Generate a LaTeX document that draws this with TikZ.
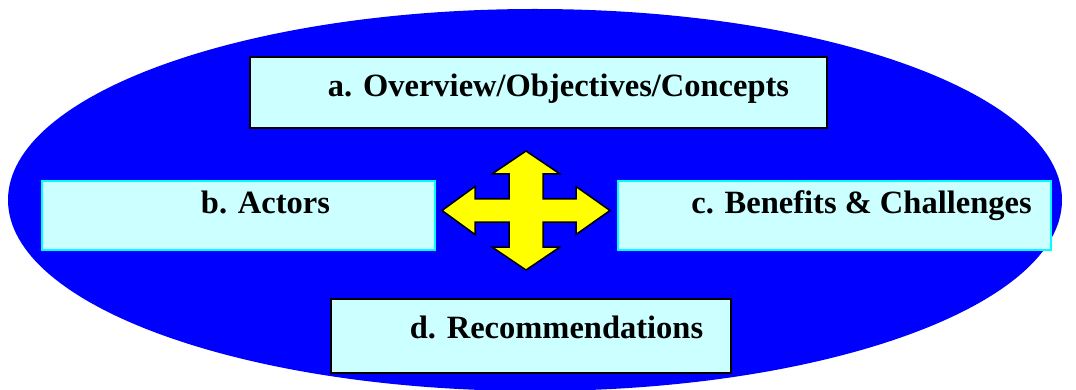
\documentclass[tikz,border=0pt]{standalone}
\usepackage{fontspec}
\setmainfont{Liberation Serif}
\definecolor{pureblue}{RGB}{0,0,255}
\definecolor{boxfill}{RGB}{204,255,255}
\definecolor{cyanedge}{RGB}{0,255,255}
\definecolor{arrowyellow}{RGB}{255,255,0}
\begin{document}
\begin{tikzpicture}[x=1pt,y=-1pt,
  boxbase/.style={rectangle, fill=boxfill, line width=2pt, inner sep=0pt, anchor=north west},
  blackbox/.style={boxbase, draw=black},
  cyanbox/.style={boxbase, draw=cyanedge},
  lbl/.style={font=\fontsize{32.5}{37}\selectfont\bfseries, anchor=base, inner sep=0pt}]
\useasboundingbox (0,0) rectangle (1076,390);
\clip (0,0) rectangle (1076,390);
\fill[pureblue] (535,200) ellipse [x radius=527, y radius=191];
% boxes
\node[blackbox, minimum width=577pt, minimum height=71pt] (a) at (249,56) {};
\node[cyanbox, minimum width=393pt, minimum height=69pt] (b) at (41,180) {};
\node[cyanbox, minimum width=433pt, minimum height=69pt] (c) at (617,180) {};
\node[blackbox, minimum width=400pt, minimum height=74pt] (d) at (330,298) {};
% labels
\node[lbl] (ta) at (558.5,97) {a. Overview/Objectives/Concepts};
\node[lbl] (tb) at (265.5,214) {b. Actors};
\node[lbl] (tc) at (861.5,214) {c. Benefits \& Challenges};
\node[lbl] (td) at (556.5,338) {d. Recommendations};
% four-way arrow
\begin{scope}[shift={(526,210.5)}]
\draw[fill=arrowyellow, draw=black, line width=1.5pt, line join=miter]
  (0,-59.5) -- (34,-36.5) -- (17,-36.5) -- (17,-11.7) -- (50,-11.7) -- (50,-24)
  -- (84,0) -- (50,24) -- (50,11.7) -- (17,11.7) -- (17,36.5) -- (34,36.5)
  -- (0,59.5) -- (-34,36.5) -- (-17,36.5) -- (-17,11.7) -- (-51,11.7) -- (-51,24)
  -- (-84,0) -- (-51,-24) -- (-51,-11.7) -- (-17,-11.7) -- (-17,-36.5) -- (-34,-36.5)
  -- cycle;
\end{scope}
\end{tikzpicture}
\end{document}
